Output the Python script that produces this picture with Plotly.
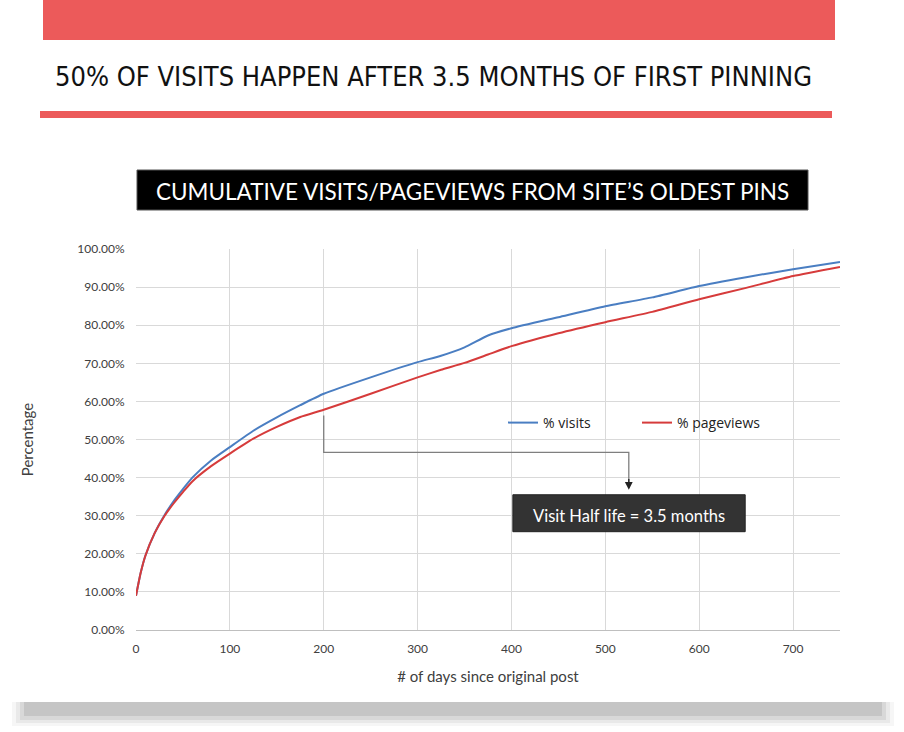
import plotly.graph_objects as go

# ---- data ----
days = [0, 5, 10, 20, 30, 40, 50, 60, 80, 100, 125, 150, 175, 200, 250, 300,
        325, 350, 375, 400, 450, 500, 550, 600, 650, 700, 750]
visits = [9, 15, 19.5, 25.5, 30, 33.8, 37, 40, 44.5, 48, 52.3, 55.8, 59, 62, 66.3, 70.3,
          72, 74.2, 77.3, 79.2, 82.1, 85, 87.3, 90.3, 92.6, 94.7, 96.6]
pageviews = [9, 15, 19.5, 25.5, 29.8, 33.2, 36.2, 39, 43, 46.3, 50.2, 53.3, 55.9, 57.8, 62, 66.3,
             68.3, 70.1, 72.3, 74.5, 77.9, 80.8, 83.5, 86.8, 89.8, 92.9, 95.3]
visits = [v / 100 for v in visits]
pageviews = [v / 100 for v in pageviews]

x_ticks = [0, 100, 200, 300, 400, 500, 600, 700]
y_ticks = [i / 10 for i in range(11)]

title_text = "50% OF VISITS HAPPEN AFTER 3.5 MONTHS OF FIRST PINNING"
subtitle_text = "CUMULATIVE VISITS/PAGEVIEWS FROM SITE\u2019S OLDEST PINS"
callout_text = "Visit Half life = 3.5 months"

BLUE = "#4A7EC2"
RED = "#D63B3B"
BAR_RED = "#EC5A5A"
TICK_FONT = "Lato, 'Open Sans', sans-serif"

W, H = 904, 732
L, R, T, B = 136, 64, 249, 102
PW, PH = W - L - R, H - T - B


def px(xp):
    return (xp - L) / PW


def py(yp):
    return (H - B - yp) / PH


fig = go.Figure()
fig.add_trace(go.Scatter(x=days, y=visits, mode="lines", name="% visits",
                         line=dict(color=BLUE, width=2, shape="spline", smoothing=0.5)))
fig.add_trace(go.Scatter(x=days, y=pageviews, mode="lines", name="% pageviews",
                         line=dict(color=RED, width=2, shape="spline", smoothing=0.5)))

shapes = []
# bottom card shadow
for i, (op, y0, y1) in enumerate([(0.08, 696, 726), (0.12, 698, 723), (0.18, 700, 720), (0.25, 702, 716)]):
    shapes.append(dict(type="rect", xref="paper", yref="paper",
                       x0=px(12 + i * 4), x1=px(894 - i * 4), y0=py(y1), y1=py(y0),
                       fillcolor="#8c8c8c", opacity=op, line=dict(width=0), layer="below"))
# white card over shadow top
shapes.append(dict(type="rect", xref="paper", yref="paper",
                   x0=px(8), x1=px(896), y0=py(702), y1=py(0),
                   fillcolor="white", line=dict(width=0), layer="below"))
# top red bar
shapes.append(dict(type="rect", xref="paper", yref="paper",
                   x0=px(43), x1=px(835), y0=py(40), y1=py(0),
                   fillcolor=BAR_RED, line=dict(width=0)))
# lower red rule
shapes.append(dict(type="rect", xref="paper", yref="paper",
                   x0=px(40), x1=px(832), y0=py(118), y1=py(111),
                   fillcolor=BAR_RED, line=dict(width=0)))
# black subtitle box
shapes.append(dict(type="rect", xref="paper", yref="paper",
                   x0=px(137), x1=px(808), y0=py(210), y1=py(170),
                   fillcolor="#000000", line=dict(color="#555", width=1)))
# callout connector
shapes.append(dict(type="path", xref="x", yref="y",
                   path="M 200 0.563 L 200 0.466 L 525 0.466 L 525 0.385",
                   line=dict(color="#7f7f7f", width=1.3)))
# callout box
shapes.append(dict(type="rect", xref="x", yref="y",
                   x0=401.5, x1=649, y0=0.258, y1=0.355,
                   fillcolor="#333333", line=dict(color="#222", width=1)))

annotations = [
    dict(text=title_text, xref="paper", yref="paper", x=px(433), y=py(76),
         showarrow=False, xanchor="center", yanchor="middle",
         font=dict(family="'DejaVu Sans Condensed', 'Liberation Sans Narrow', sans-serif",
                   size=27, color="#111")),
    dict(text=subtitle_text, xref="paper", yref="paper", x=px(472), y=py(191),
         showarrow=False, xanchor="center", yanchor="middle",
         font=dict(family=TICK_FONT, size=22.5, color="white")),
    dict(text=callout_text, xref="x", yref="y", x=525, y=0.298,
         showarrow=False, xanchor="center", yanchor="middle",
         font=dict(family=TICK_FONT, size=16.5, color="white")),
    # arrow head
    dict(x=525, y=0.368, ax=525, ay=0.40, xref="x", yref="y", axref="x", ayref="y",
         text="", showarrow=True, arrowhead=2, arrowsize=1.2, arrowwidth=1.3,
         arrowcolor="#222"),
]

fig.update_layout(
    width=W, height=H,
    margin=dict(l=L, r=R, t=T, b=B, autoexpand=False),
    paper_bgcolor="white", plot_bgcolor="white",
    shapes=shapes, annotations=annotations,
    showlegend=True,
    legend=dict(orientation="h", x=px(503), y=py(423), xanchor="left", yanchor="middle",
                bgcolor="rgba(0,0,0,0)", font=dict(family="'Open Sans', sans-serif", size=14, color="#222"),
                tracegroupgap=0, entrywidth=89, itemwidth=30),
    xaxis=dict(range=[0, 750], tickvals=x_ticks, showgrid=True, gridcolor="#D9D9D9",
               gridwidth=1, zeroline=False, showline=True, linecolor="#BFBFBF",
               tickfont=dict(family=TICK_FONT, size=12, color="#404040"),
               title=dict(text="# of days since original post", standoff=16,
                          font=dict(family=TICK_FONT, size=15, color="#404040")),
               ticks="outside", ticklen=8, tickcolor="rgba(0,0,0,0)"),
    yaxis=dict(range=[0, 1], tickvals=y_ticks, tickformat=".2%", showgrid=True,
               gridcolor="#D9D9D9", gridwidth=1, zeroline=False, showline=False,
               tickfont=dict(family=TICK_FONT, size=12, color="#404040"),
               title=dict(text="Percentage", standoff=40,
                          font=dict(family=TICK_FONT, size=15, color="#404040")),
               ticks="outside", ticklen=8, tickcolor="rgba(0,0,0,0)"),
)

fig.write_html("out.html", config={"displayModeBar": False},
               post_script="document.body.style.margin='0';")
